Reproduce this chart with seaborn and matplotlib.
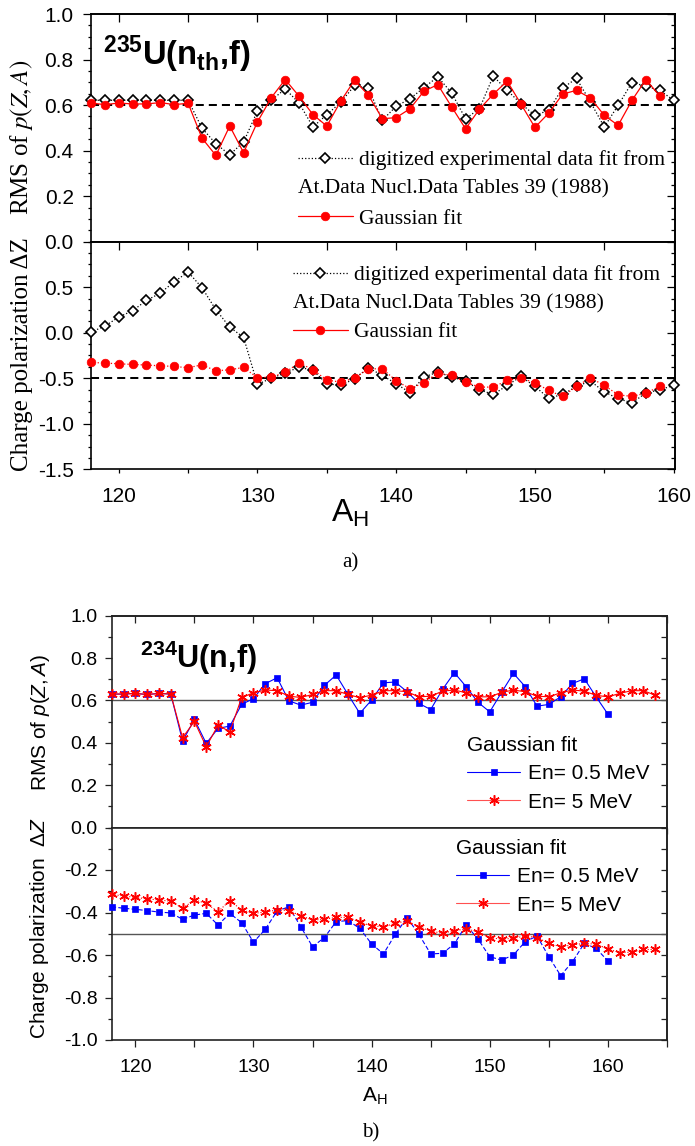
import matplotlib
matplotlib.use("Agg")
import matplotlib.pyplot as plt
from matplotlib.lines import Line2D
from matplotlib.ticker import MultipleLocator, FixedLocator, FormatStrFormatter, NullFormatter
from matplotlib.font_manager import FontProperties
import seaborn as sns

sns.set_style("ticks")
plt.rcParams['font.family'] = ['Liberation Sans', 'DejaVu Sans']
plt.rcParams.update({
    'mathtext.fontset': 'custom',
    'mathtext.rm': 'Liberation Sans',
    'mathtext.it': 'Liberation Sans:italic',
    'mathtext.bf': 'Liberation Sans:bold',
    'axes.unicode_minus': False,
    'axes.edgecolor': 'black',
    'xtick.color': 'black', 'ytick.color': 'black',
    'text.color': 'black', 'axes.labelcolor': 'black',
})

# ---------------- data ----------------
# panel a) 235U(nth,f)
A_exp_a = list(range(118, 161))
A_fit_a = list(range(118, 160))
rms_exp_a = [0.621, 0.621, 0.621, 0.621, 0.621, 0.621, 0.621, 0.621, 0.499, 0.430,
             0.382, 0.438, 0.574, 0.621, 0.671, 0.609, 0.504, 0.558, 0.612, 0.686,
             0.673, 0.533, 0.595, 0.628, 0.677, 0.724, 0.653, 0.540, 0.584, 0.727,
             0.665, 0.606, 0.555, 0.577, 0.675, 0.717, 0.614, 0.504, 0.599, 0.699,
             0.683, 0.665, 0.621]
rms_fit_a = [0.609, 0.602, 0.609, 0.605, 0.605, 0.611, 0.602, 0.608, 0.455, 0.379,
             0.508, 0.391, 0.526, 0.633, 0.712, 0.639, 0.558, 0.508, 0.617, 0.709,
             0.643, 0.540, 0.545, 0.584, 0.661, 0.690, 0.592, 0.496, 0.582, 0.648,
             0.705, 0.604, 0.502, 0.565, 0.648, 0.665, 0.631, 0.555, 0.511, 0.621,
             0.712, 0.640]
dz_exp_a = [0.007, 0.073, 0.172, 0.242, 0.355, 0.436, 0.560, 0.667, 0.495, 0.253,
            0.062, -0.051, -0.568, -0.498, -0.443, -0.377, -0.414, -0.560, -0.579, -0.505,
            -0.385, -0.469, -0.560, -0.659, -0.487, -0.432, -0.487, -0.531, -0.626, -0.678,
            -0.579, -0.480, -0.590, -0.718, -0.678, -0.590, -0.531, -0.648, -0.725, -0.769,
            -0.663, -0.626, -0.579]
dz_fit_a = [-0.326, -0.333, -0.341, -0.348, -0.355, -0.363, -0.370, -0.385, -0.352, -0.418,
            -0.407, -0.381, -0.495, -0.487, -0.436, -0.330, -0.407, -0.520, -0.542, -0.498,
            -0.396, -0.396, -0.527, -0.615, -0.549, -0.443, -0.469, -0.542, -0.597, -0.597,
            -0.524, -0.498, -0.549, -0.634, -0.700, -0.590, -0.495, -0.579, -0.681, -0.700,
            -0.663, -0.590]

# panel b) 234U(n,f)
A_b05 = list(range(118, 161))
A_b5 = list(range(118, 165))
rms_b05 = [0.630, 0.630, 0.633, 0.628, 0.633, 0.630, 0.408, 0.510, 0.397, 0.468,
           0.479, 0.581, 0.609, 0.679, 0.707, 0.598, 0.578, 0.591, 0.671, 0.720,
           0.628, 0.539, 0.602, 0.683, 0.687, 0.641, 0.586, 0.557, 0.652, 0.731,
           0.665, 0.591, 0.546, 0.638, 0.728, 0.665, 0.573, 0.581, 0.617, 0.680,
           0.702, 0.617, 0.535]
rms_b5 = [0.630, 0.630, 0.633, 0.628, 0.633, 0.630, 0.424, 0.501, 0.381, 0.483,
          0.452, 0.614, 0.636, 0.649, 0.646, 0.620, 0.614, 0.628, 0.646, 0.646,
          0.628, 0.613, 0.625, 0.646, 0.646, 0.641, 0.617, 0.620, 0.644, 0.649,
          0.636, 0.617, 0.617, 0.638, 0.649, 0.641, 0.620, 0.617, 0.636, 0.649,
          0.644, 0.624, 0.617, 0.633, 0.646, 0.646, 0.625]
dz_b05 = [-0.373, -0.380, -0.385, -0.391, -0.398, -0.402, -0.432, -0.412, -0.404, -0.459,
          -0.404, -0.448, -0.540, -0.479, -0.393, -0.373, -0.467, -0.561, -0.518, -0.443,
          -0.438, -0.475, -0.548, -0.595, -0.503, -0.424, -0.503, -0.595, -0.592, -0.548,
          -0.459, -0.525, -0.608, -0.624, -0.600, -0.537, -0.511, -0.608, -0.697, -0.632,
          -0.545, -0.569, -0.628]
dz_b5 = [-0.315, -0.322, -0.329, -0.336, -0.341, -0.347, -0.380, -0.341, -0.357, -0.396,
         -0.344, -0.388, -0.404, -0.398, -0.388, -0.391, -0.415, -0.435, -0.432, -0.423,
         -0.423, -0.444, -0.464, -0.467, -0.451, -0.440, -0.467, -0.487, -0.498, -0.485,
         -0.478, -0.490, -0.518, -0.526, -0.521, -0.511, -0.518, -0.545, -0.561, -0.553,
         -0.545, -0.549, -0.571, -0.589, -0.587, -0.574, -0.574]

xticks_a = [120, 130, 140, 150, 160]
xticks_b = [120, 130, 140, 150, 160]
yt_rms = [0.0, 0.2, 0.4, 0.6, 0.8, 1.0]
yt_dz_a = [-1.5, -1.0, -0.5, 0.0, 0.5]
yt_dz_b = [-1.0, -0.8, -0.6, -0.4, -0.2]

label_exp = "digitized experimental data fit from"
label_ref = "At.Data Nucl.Data Tables 39 (1988)"
label_fit = "Gaussian fit"
label_05 = "En= 0.5 MeV"
label_5 = "En= 5 MeV"

# ---------------- layout ----------------
W, H = 695.0, 1146.0
def fx(px): return px / W
def fy(py): return 1.0 - py / H

fig = plt.figure(figsize=(6.95, 11.46), dpi=100)
axA1 = fig.add_axes([fx(91), fy(241.7), (675 - 91) / W, (241.7 - 14) / H])
axA2 = fig.add_axes([fx(91), fy(469.3), (675 - 91) / W, (469.3 - 241.7) / H])
axB1 = fig.add_axes([fx(111.7), fy(827.5), (667 - 111.7) / W, (827.5 - 615.7) / H])
axB2 = fig.add_axes([fx(111.7), fy(1040), (667 - 111.7) / W, (1040 - 827.5) / H])

serif = 'Liberation Serif'
serif_fp = FontProperties(family=serif, size=15.5)

def series(ax, x, y, **kw):
    sns.lineplot(x=x, y=y, ax=ax, estimator=None, sort=False, legend=False,
                 clip_on=False, zorder=3, **kw)

# ---- panel a plots
exp_style = dict(color='black', lw=0.9, linestyle=':', marker='D', markersize=5.4,
                 markerfacecolor='white', markeredgecolor='black', markeredgewidth=1.2)
fit_style = dict(color='red', lw=0.9, linestyle='-', marker='o', markersize=6.2,
                 markerfacecolor='red', markeredgecolor='red', markeredgewidth=0.5)
series(axA1, A_exp_a, rms_exp_a, **exp_style)
series(axA1, A_fit_a, rms_fit_a, **fit_style)
series(axA2, A_exp_a, dz_exp_a, **exp_style)
series(axA2, A_fit_a, dz_fit_a, **dict(fit_style, linestyle=':'))
axA1.axhline(0.6, color='black', lw=1.45, ls=(0, (4, 2.5)), zorder=2)
axA2.axhline(-0.5, color='black', lw=1.45, ls=(0, (4, 2.5)), zorder=2)

# ---- panel b plots
b05_style = dict(color='#0000ff', lw=0.8, linestyle='-', marker='s', markersize=5.0,
                 markerfacecolor='#0000ff', markeredgecolor='#0000ff', markeredgewidth=0.5)
b5_style = dict(color='#ff0000', lw=0.8, linestyle='-', marker=(6, 2, 0), markersize=7.5,
                markerfacecolor='#ff0000', markeredgecolor='#ff0000', markeredgewidth=1.1)
series(axB1, A_b05, rms_b05, **b05_style)
series(axB1, A_b5, rms_b5, **b5_style)
series(axB2, A_b05, dz_b05, **dict(b05_style, linestyle=(0, (4, 2))))
series(axB2, A_b5, dz_b5, **dict(b5_style, linestyle=':'))
axB1.axhline(0.6, color='#555555', lw=1.0, zorder=2)
axB2.axhline(-0.5, color='#555555', lw=1.0, zorder=2)

# ---------------- axes styling ----------------
def spines(ax, lw, color='black'):
    for s in ax.spines.values():
        s.set_linewidth(lw)
        s.set_color(color)
        s.set_visible(True)

def sec_ticks(ax, side, major, minor, length, mlength, width, color='black'):
    if side in ('top', 'bottom'):
        sec = ax.secondary_xaxis(side)
        axis = sec.xaxis
    else:
        sec = ax.secondary_yaxis(side)
        axis = sec.yaxis
    axis.set_major_locator(MultipleLocator(major))
    axis.set_major_formatter(NullFormatter())
    if minor:
        axis.set_minor_locator(MultipleLocator(minor))
    sec.tick_params(which='major', direction='in', length=length, width=width, color=color)
    sec.tick_params(which='minor', direction='in', length=mlength, width=width, color=color)
    for s in sec.spines.values():
        s.set_linewidth(1.2)
        s.set_color(color)
    return sec

tick_a = 15
for ax in (axA1, axA2):
    spines(ax, 1.2)
    ax.set_xlim(118, 160.1)
    ax.set_xlabel('')
    ax.set_ylabel('')
    ax.xaxis.set_major_locator(FixedLocator(xticks_a))
    ax.xaxis.set_minor_locator(MultipleLocator(5))
    ax.tick_params(axis='y', which='major', direction='out', length=5.5, width=0.9,
                   labelsize=tick_a, pad=7, left=True, right=False)
    ax.tick_params(axis='y', which='minor', direction='out', length=2.2, width=0.9,
                   left=True, right=False)
    ax.yaxis.set_major_formatter(FormatStrFormatter('%.1f'))
    sec_ticks(ax, 'top', 5, None, 6, 6, 0.9)

axA1.set_ylim(0, 1.0)
axA1.yaxis.set_major_locator(FixedLocator(yt_rms))
axA1.yaxis.set_minor_locator(MultipleLocator(0.05))
axA1.tick_params(axis='x', which='both', bottom=False, top=False, labelbottom=False)
sec_ticks(axA1, 'right', 0.2, 0.05, 6, 3, 0.9)

axA2.set_ylim(-1.5, 1.0)
axA2.yaxis.set_major_locator(FixedLocator(yt_dz_a))
axA2.yaxis.set_minor_locator(MultipleLocator(0.125))
axA2.tick_params(axis='x', which='both', direction='out', length=3, width=0.9,
                 bottom=True, top=False, labelsize=tick_a, pad=9.5)
sec_ticks(axA2, 'right', 0.5, 0.125, 6, 3, 0.9)

tick_b = 14
for ax in (axB1, axB2):
    spines(ax, 1.2, '#222222')
    ax.set_xlim(118, 165)
    ax.set_xlabel('')
    ax.set_ylabel('')
    ax.xaxis.set_major_locator(FixedLocator(xticks_b))
    ax.xaxis.set_minor_locator(MultipleLocator(5))
    ax.yaxis.set_minor_locator(MultipleLocator(0.1))
    ax.tick_params(axis='y', which='major', direction='out', length=5, width=0.9,
                   labelsize=tick_b, pad=5, color='#222222')
    ax.tick_params(axis='y', which='minor', direction='out', length=3, width=0.9,
                   color='#222222')
    ax.yaxis.set_major_formatter(FormatStrFormatter('%.1f'))
    sec_ticks(ax, 'right', 0.1, None, 4.5, 4.5, 0.9, '#222222')

axB1.set_ylim(0, 1.0)
axB1.yaxis.set_major_locator(FixedLocator(yt_rms))
axB1.tick_params(axis='x', which='both', direction='out', length=4.5, width=0.9,
                 labelbottom=False, color='#222222')
sec_ticks(axB1, 'top', 5, None, 5, 5, 0.9, '#222222')

axB2.set_ylim(-1.0, 0.0)
axB2.yaxis.set_major_locator(FixedLocator(yt_dz_b))
axB2.tick_params(axis='x', which='both', direction='out', length=4.8, width=0.9,
                 labelsize=tick_b, pad=9, color='#222222')

# ---------------- text ----------------
fig.text(fx(103), fy(65), r'$^{\mathbf{235}}$U(n$_{\mathbf{th}}$,f)', fontsize=23.5,
         fontweight='bold', va='baseline', ha='left', math_fontfamily='custom')
fig.text(fx(140), fy(668), r'$^{\mathbf{234}}$U(n,f)', fontsize=22,
         fontweight='bold', va='baseline', ha='left', math_fontfamily='custom')

fig.text(fx(22), fy(137), r'RMS of $p(Z,A)$', rotation=90, ha='center', va='center',
         family=serif, fontsize=18, math_fontfamily='stix')
fig.text(fx(22), fy(354), 'Charge polarization \u0394Z', rotation=90, ha='center',
         va='center', family=serif, fontsize=18)
fig.text(fx(40), fy(722), r'RMS of $p(Z,A)$', rotation=90, ha='center', va='center',
         fontsize=15, math_fontfamily='custom')
fig.text(fx(40), fy(928), r'Charge polarization  $\mathit{\Delta Z}$', rotation=90,
         ha='center', va='center', fontsize=15, math_fontfamily='custom')

fig.text(fx(331), fy(522), r'A$_{\mathrm{H}}$', fontsize=23, ha='left', va='baseline',
         math_fontfamily='custom')
fig.text(fx(362), fy(1102), r'A$_{\mathrm{H}}$', fontsize=15, ha='left', va='baseline',
         math_fontfamily='custom')
fig.text(fx(350), fy(563), 'a)', family=serif, fontsize=15, ha='center', va='center')
fig.text(fx(371), fy(1133), 'b)', family=serif, fontsize=15, ha='center', va='center')

# ---------------- legends ----------------
h_exp = Line2D([], [], **{k: v for k, v in exp_style.items()})
h_fit = Line2D([], [], **{k: v for k, v in fit_style.items()})
h_blank = Line2D([], [], linestyle='none')

def legend_a(ax, x, ytop, yref, spacing):
    leg = ax.legend([h_exp, h_blank, h_fit], [label_exp, ' ', label_fit],
                    loc='upper left', bbox_to_anchor=(fx(x), fy(ytop)),
                    bbox_transform=fig.transFigure, frameon=False, borderpad=0,
                    borderaxespad=0, handlelength=2.55, handletextpad=0.28,
                    labelspacing=spacing, numpoints=1, prop=serif_fp)
    fig.text(fx(x), fy(yref), label_ref, family=serif, fontsize=15.5,
             ha='left', va='center')
    return leg

legend_a(axA1, 298, 150, 189, 0.43)
legend_a(axA2, 293, 265, 304, 0.4)

h_05 = Line2D([], [], **{k: v for k, v in b05_style.items()})
h_5 = Line2D([], [], **{k: v for k, v in dict(b5_style, color='#ff5050').items()})
sans_fp = FontProperties(family='Liberation Sans', size=15)

def legend_b(ax, x, ytop):
    ax.legend([h_05, h_5], [label_05, label_5], title=label_fit,
              title_fontproperties=sans_fp, alignment='left',
              loc='upper left', bbox_to_anchor=(fx(x), fy(ytop)),
              bbox_transform=fig.transFigure, frameon=False, borderpad=0,
              borderaxespad=0, handlelength=2.55, handletextpad=0.37,
              labelspacing=0.45, numpoints=1, prop=sans_fp)

legend_b(axB1, 467, 736)
legend_b(axB2, 456, 839)

fig.savefig('out.png', dpi=100)
